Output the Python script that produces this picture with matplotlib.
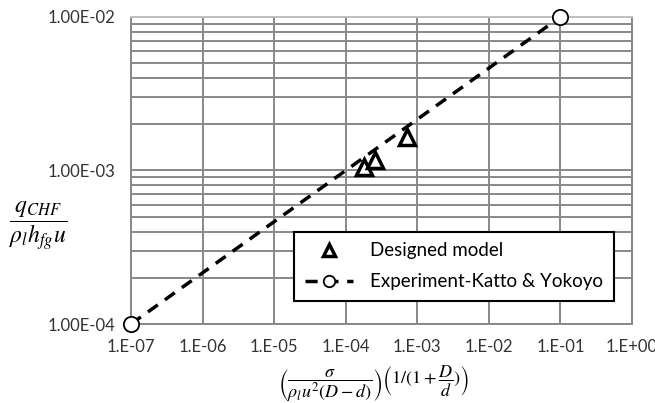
import matplotlib
matplotlib.use('Agg')
import numpy as np
import matplotlib.pyplot as plt
from matplotlib.ticker import LogLocator, FixedLocator, NullFormatter

# Data
model_x = [1.8e-4, 2.6e-4, 7.2e-4]
model_y = [1.05e-3, 1.17e-3, 1.65e-3]
exp_x = [1e-7, 1e-1]
exp_y = [1e-4, 1e-2]

x_ticks = [1e-7, 1e-6, 1e-5, 1e-4, 1e-3, 1e-2, 1e-1, 1e0]
x_labels = ["1.E-07", "1.E-06", "1.E-05", "1.E-04", "1.E-03", "1.E-02", "1.E-01", "1.E+00"]
y_ticks = [1e-4, 1e-3, 1e-2]
y_labels = ["1.00E-04", "1.00E-03", "1.00E-02"]

plt.rcParams['font.family'] = ['Lato', 'DejaVu Sans']
plt.rcParams['mathtext.fontset'] = 'stix'

fig = plt.figure(figsize=(6.55, 4.03), dpi=100)
ax = fig.add_axes([0.2, 0.196, 0.765, 0.762])
ax.set_xscale('log')
ax.set_yscale('log')
ax.set_xlim(1e-7, 1e0)
ax.set_ylim(1e-4, 1e-2)

grid_col = '#888888'
ax.xaxis.set_major_locator(FixedLocator(x_ticks))
ax.set_xticklabels(x_labels)
ax.xaxis.set_minor_locator(FixedLocator([]))
ax.yaxis.set_major_locator(FixedLocator(y_ticks))
ax.set_yticklabels(y_labels)
ax.yaxis.set_minor_locator(LogLocator(base=10, subs=np.arange(2, 10)))
ax.yaxis.set_minor_formatter(NullFormatter())
ax.grid(True, which='major', axis='both', color=grid_col, lw=1.4)
ax.grid(True, which='minor', axis='y', color=grid_col, lw=1.4)
ax.tick_params(which='both', length=0, labelsize=12, colors='#333333')
ax.tick_params(axis='x', pad=11)
ax.tick_params(axis='y', pad=11)
for s in ax.spines.values():
    s.set_color(grid_col)
    s.set_linewidth(1.4)
ax.spines['top'].set_color('#c0c0c0')
ax.set_axisbelow(True)

ax.plot(exp_x, exp_y, color='black', ls=(0, (3.5, 2.5)), lw=2.5,
        marker='o', ms=11, mfc='white', mec='black', mew=1.3,
        label='Experiment-Katto & Yokoyo', clip_on=False, zorder=3)
ax.plot(model_x, model_y, ls='none', marker='^', ms=11, mfc='white',
        mec='black', mew=2.5, label='Designed model', zorder=4)

handles, labels = ax.get_legend_handles_labels()
leg = ax.legend(handles[::-1], labels[::-1], loc='lower right',
                bbox_to_anchor=(0.982, 0.046), fontsize=13.5, frameon=True,
                fancybox=False, edgecolor='black', handlelength=2.6,
                borderpad=0.55, labelspacing=0.75, handletextpad=0.9,
                markerscale=0.75)
leg.get_frame().set_linewidth(1.5)
leg.get_frame().set_alpha(1)

fig.text(0.058, 0.437, r'$\dfrac{q_{CHF}}{\rho_l h_{fg} u}$', fontsize=17,
         ha='center', va='center')
fig.text(0.57, 0.047,
         r'$\left(\dfrac{\sigma}{\rho_l u^2 (D-d)}\right)\left(1/(1+\dfrac{D}{d})\right)$',
         fontsize=13, ha='center', va='center')

fig.savefig('out.png', dpi=100)
